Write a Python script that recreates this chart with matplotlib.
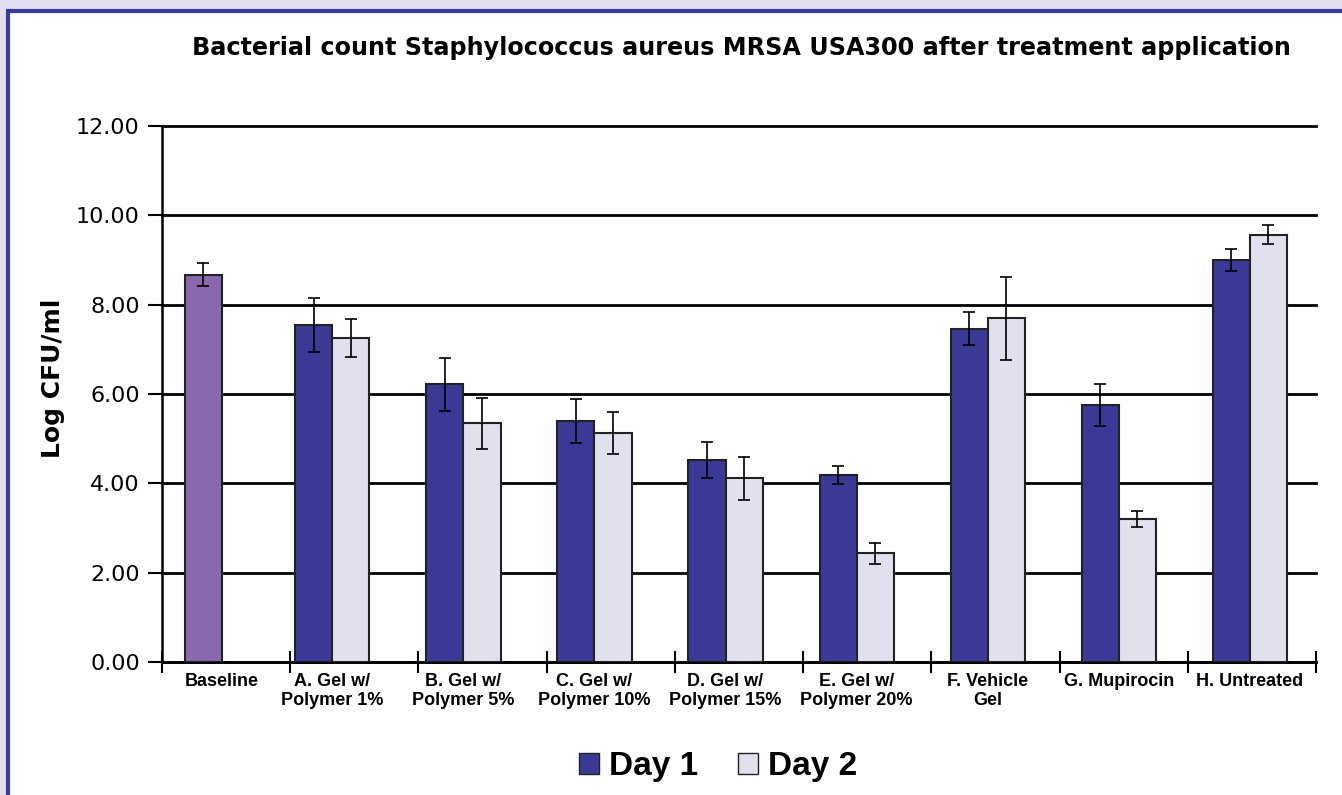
import numpy as np
import matplotlib
matplotlib.use("Agg")
import matplotlib.pyplot as plt
from matplotlib.patches import Rectangle, Patch

# data
categories = ["Baseline", "A. Gel w/\nPolymer 1%", "B. Gel w/\nPolymer 5%",
              "C. Gel w/\nPolymer 10%", "D. Gel w/\nPolymer 15%",
              "E. Gel w/\nPolymer 20%", "F. Vehicle\nGel", "G. Mupirocin",
              "H. Untreated"]
day1 = [8.67, 7.54, 6.22, 5.40, 4.52, 4.18, 7.46, 5.76, 9.00]
day1_err = [0.26, 0.61, 0.59, 0.49, 0.40, 0.20, 0.37, 0.47, 0.24]
day2 = [np.nan, 7.25, 5.34, 5.13, 4.11, 2.43, 7.70, 3.20, 9.57]
day2_err = [np.nan, 0.43, 0.58, 0.47, 0.49, 0.23, 0.93, 0.18, 0.22]
y_ticks = [0, 2, 4, 6, 8, 10, 12]

c_day1 = "#3a3a96"
c_day2 = "#e0e0ee"
c_base = "#8a68b0"

fig = plt.figure(figsize=(13.42, 7.95), dpi=100)
fig.patch.set_facecolor("#e0e0f0")

# white panel with blue frame
panel = Rectangle((8 / 1342, -0.05), 1.2, 1 - 11 / 795 + 0.05,
                  transform=fig.transFigure, facecolor="white",
                  edgecolor="#3a3a9a", linewidth=3, zorder=-5)
fig.patches.append(panel)

ax = fig.add_axes([162 / 1342, 1 - 662 / 795, (1316 - 162) / 1342, (662 - 126) / 795])
ax.set_facecolor("none")
ax.set_zorder(2)

n = len(categories)
centers = np.arange(n) * 1.022 + 0.307
centers[0] += 0.16  # baseline group sits a bit further right
w = 0.289

colors1 = [c_base] + [c_day1] * (n - 1)
ax.bar(centers - w / 2, day1, w, color=colors1, edgecolor="#222222",
       linewidth=1.5, zorder=3)
ax.bar(centers + w / 2, day2, w, color=c_day2, edgecolor="#222222",
       linewidth=1.5, zorder=3)
ax.errorbar(centers - w / 2, day1, yerr=day1_err, fmt="none", ecolor="black",
            elinewidth=1.2, capsize=4, capthick=1.2, zorder=4)
ax.errorbar(centers + w / 2, day2, yerr=day2_err, fmt="none", ecolor="black",
            elinewidth=1.2, capsize=4, capthick=1.2, zorder=4)

ax.set_xlim(0, n)
ax.set_ylim(0, 12)
ax.set_yticks(y_ticks)
ax.set_yticklabels(["%.2f" % v for v in y_ticks], fontsize=16,
                   family="DejaVu Sans")
ax.yaxis.grid(True, color="black", linewidth=2, zorder=1)
for gl in ax.get_ygridlines():
    gl.set_clip_on(False)
ax.set_axisbelow(True)

ax.set_xticks(centers)
ax.set_xticklabels(categories, fontsize=13, family="Liberation Sans",
                   fontweight="bold", linespacing=1.15)
ax.set_xticks(np.arange(n + 1), minor=True)
ax.tick_params(axis="x", which="major", length=0, pad=8)
ax.tick_params(axis="x", which="minor", direction="inout", length=16, width=1.5)
ax.tick_params(axis="y", direction="out", length=10, width=1.5, pad=6)

for s in ["top", "right"]:
    ax.spines[s].set_visible(False)
for s in ["left", "bottom"]:
    ax.spines[s].set_linewidth(1.8)
    ax.spines[s].set_color("black")

ax.set_ylabel("Log CFU/ml", fontsize=18, fontweight="bold",
              family="DejaVu Sans")
ax.yaxis.set_label_coords(-0.084, 0.53)

fig.text(0.5525, 1 - 48 / 795, "Bacterial count Staphylococcus aureus MRSA USA300 after treatment application",
         ha="center", va="center", fontsize=17.2, fontweight="bold",
         family="DejaVu Sans")

handles = [Patch(facecolor=c_day1, edgecolor="#222222", label="Day 1"),
           Patch(facecolor=c_day2, edgecolor="#222222", label="Day 2")]
fig.legend(handles=handles, loc="center", bbox_to_anchor=(718 / 1342, 1 - 767 / 795),
           ncol=2, frameon=False, handlelength=0.6, handleheight=0.6,
           handletextpad=0.3, columnspacing=1.2,
           prop={"family": "Liberation Sans", "weight": "bold", "size": 24})

fig.savefig("out.png", dpi=100, facecolor=fig.get_facecolor())
